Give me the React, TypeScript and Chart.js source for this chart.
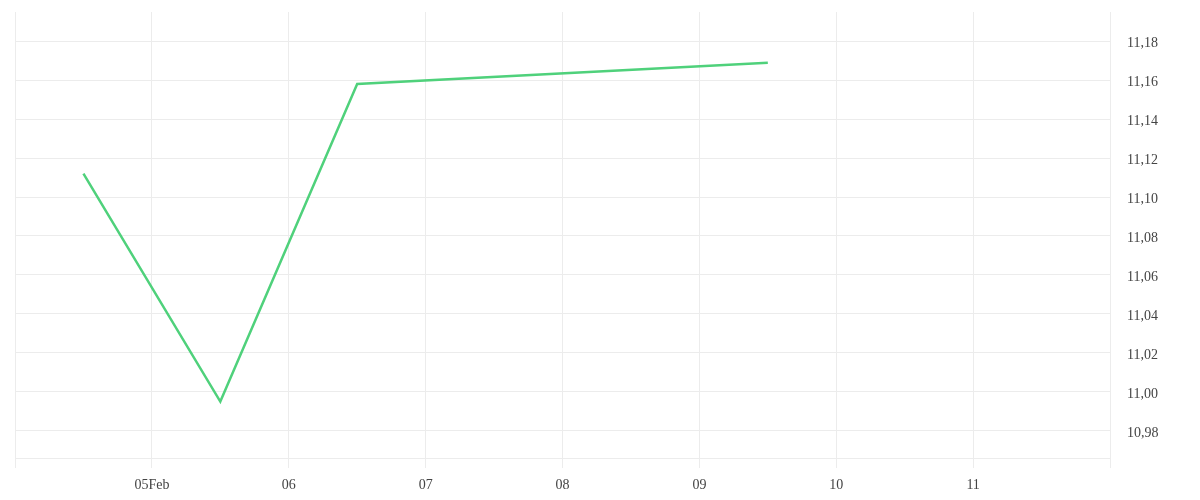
import React, { useEffect, useRef } from "react";
import { Chart, registerables } from "chart.js";

Chart.register(...registerables);

const pointDates = ["2024-02-04T12:00:00", "2024-02-05T12:00:00", "2024-02-06T12:00:00", "2024-02-09T12:00:00"];
const pointValues = [11.112, 10.995, 11.158, 11.169];

const xTickDates = [
  "2024-02-04T00:00:00",
  "2024-02-05T00:00:00",
  "2024-02-06T00:00:00",
  "2024-02-07T00:00:00",
  "2024-02-08T00:00:00",
  "2024-02-09T00:00:00",
  "2024-02-10T00:00:00",
  "2024-02-11T00:00:00",
  "2024-02-12T00:00:00",
];
const xTickLabels = ["", "05Feb", "06", "07", "08", "09", "10", "11", ""];

const yTicks = [10.98, 11.0, 11.02, 11.04, 11.06, 11.08, 11.1, 11.12, 11.14, 11.16, 11.18];
const yMin = 10.966;
const yMax = 11.195;

const toMs = (s: string) => Date.parse(s + "Z");

const GRID = "#ececec";
const FONT = { family: "'Liberation Serif', serif", size: 14 };

export default function App() {
  const ref = useRef<HTMLCanvasElement | null>(null);

  useEffect(() => {
    if (!ref.current) return;
    const xTickMs = xTickDates.map(toMs);
    const chart = new Chart(ref.current, {
      type: "line",
      data: {
        datasets: [
          {
            data: pointDates.map((d, i) => ({ x: toMs(d), y: pointValues[i] })),
            borderColor: "#4fd17b",
            borderWidth: 2.5,
            pointRadius: 0,
            tension: 0,
            fill: false,
          },
        ],
      },
      options: {
        animation: false,
        responsive: true,
        maintainAspectRatio: false,
        layout: { padding: { top: 12, left: 15, right: 0, bottom: 0 } },
        plugins: { legend: { display: false }, tooltip: { enabled: false } },
        scales: {
          x: {
            type: "linear",
            min: xTickMs[0],
            max: xTickMs[xTickMs.length - 1],
            afterBuildTicks: (scale: any) => {
              scale.ticks = xTickMs.map((v) => ({ value: v }));
            },
            afterFit: (scale: any) => {
              scale.height = 42;
              scale.paddingLeft = 0;
              scale.paddingRight = 0;
            },
            grid: { color: GRID, tickLength: 10, lineWidth: 1 },
            border: { color: GRID },
            ticks: {
              autoSkip: false,
              maxRotation: 0,
              padding: 9,
              color: "#444",
              font: FONT,
              callback: (_v: any, i: number) => xTickLabels[i],
            },
          },
          y: {
            type: "linear",
            position: "right",
            min: yMin,
            max: yMax,
            afterBuildTicks: (scale: any) => {
              scale.ticks = yTicks.map((v) => ({ value: v }));
            },
            afterFit: (scale: any) => {
              scale.width = 90;
              scale.paddingTop = 0;
              scale.paddingBottom = 0;
            },
            grid: { color: GRID, drawTicks: false, lineWidth: 1 },
            border: { color: GRID },
            ticks: {
              padding: 17,
              labelOffset: 2.5,
              color: "#444",
              font: FONT,
              callback: (v: any) => Number(v).toFixed(2).replace(".", ","),
            },
          },
        },
      },
    } as any);
    return () => chart.destroy();
  }, []);

  return (
    <div style={{ position: "absolute", left: 0, top: 0, width: 1200, height: 500 }}>
      <canvas ref={ref} />
    </div>
  );
}
